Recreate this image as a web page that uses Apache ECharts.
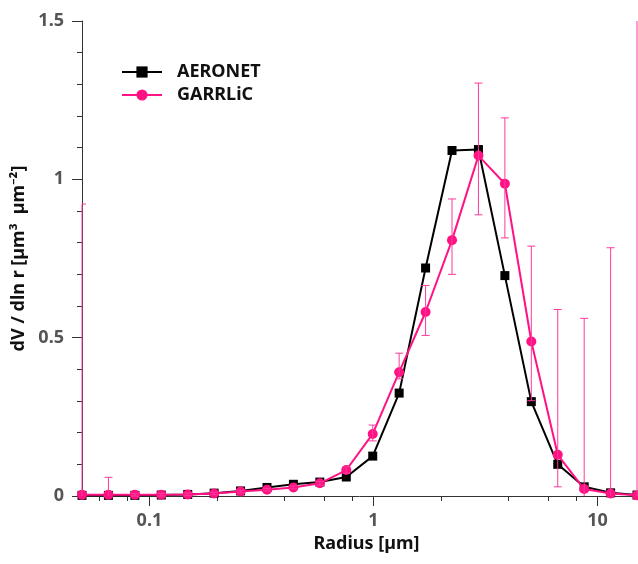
<!DOCTYPE html>
<html><head><meta charset="utf-8">
<script src="https://cdn.jsdelivr.net/npm/echarts@6/dist/echarts.min.js"></script>
<style>html,body{margin:0;padding:0;background:#fff}#c{width:638px;height:564px}</style>
</head><body><div id="c"></div>
<script>
// Radius bins [µm]
const radius = [0.05, 0.0656, 0.0861, 0.1129, 0.1482, 0.1944, 0.2551, 0.3347, 0.4392, 0.5762, 0.7561, 0.9921, 1.3017, 1.7080, 2.2411, 2.9406, 3.8584, 5.0627, 6.6429, 8.7163, 11.4369, 15.0];
// dV/dlnr values
const aeronet = [0.002, 0.002, 0.002, 0.003, 0.005, 0.009, 0.016, 0.027, 0.037, 0.044, 0.060, 0.126, 0.325, 0.720, 1.091, 1.094, 0.696, 0.298, 0.100, 0.029, 0.010, 0.003];
const garrlic = [0.004, 0.004, 0.004, 0.004, 0.005, 0.008, 0.014, 0.020, 0.027, 0.040, 0.082, 0.196, 0.391, 0.581, 0.808, 1.075, 0.986, 0.488, 0.130, 0.022, 0.008, 0.002];
// GARRLiC error bar bounds
const garrlicLow = [-0.9, -0.05, 0.000, 0.000, 0.001, 0.004, 0.010, 0.016, 0.022, 0.034, 0.072, 0.174, 0.370, 0.507, 0.700, 0.888, 0.815, 0.301, 0.029, -0.50, -0.77, -2.0];
const garrlicHigh = [0.922, 0.059, 0.008, 0.008, 0.009, 0.012, 0.018, 0.024, 0.032, 0.046, 0.092, 0.224, 0.451, 0.665, 0.938, 1.304, 1.194, 0.789, 0.589, 0.561, 0.784, 3.0];
// Axis ticks
const xMajorTicks = [0.1, 1, 10];
const xMinorTicks = [0.06, 0.08, 0.2, 0.4, 0.6, 0.8, 2, 4, 6, 8];
const xRange = [0.05, 15];
const yRange = [0, 1.5];
const yInterval = 0.5;

const PINK = '#ff1284';
const LOG = Math.log10;
const xMin = LOG(xRange[0]), xMax = LOG(xRange[1]);
const fmt = v => String(parseFloat(Math.pow(10, v).toPrecision(6)));

const chart = echarts.init(document.getElementById('c'), null, {renderer: 'canvas'});
const axisColor = '#333';
const labelFont = {fontFamily: 'Noto Sans', fontSize: 18, fontWeight: 'bold', color: '#555'};
const nameFont = {fontFamily: 'Noto Sans', fontSize: 18, fontWeight: 'bold', color: '#111'};

chart.setOption({
  animation: false,
  backgroundColor: '#fff',
  grid: {left: 82, top: 21, right: 1, bottom: 68, containLabel: false},
  legend: {
    orient: 'vertical', left: 121, top: 63, padding: 0, itemGap: 5,
    itemWidth: 40, itemHeight: 14,
    textStyle: {fontFamily: 'Noto Sans', fontSize: 18, fontWeight: 'bold', color: '#111', padding: [0, 0, 0, 10]},
    data: ['AERONET', 'GARRLiC']
  },
  xAxis: [{
    type: 'value', min: xMin, max: xMax,
    name: 'Radius [µm]', nameLocation: 'middle', nameGap: 34,
    nameTextStyle: Object.assign({padding: [0, 0, 0, 14]}, nameFont),
    axisLine: {show: true, onZero: false, lineStyle: {color: axisColor, width: 1}},
    axisTick: {show: true, length: 10, customValues: xMajorTicks.map(LOG), lineStyle: {color: axisColor}},
    axisLabel: Object.assign({customValues: xMajorTicks.map(LOG), formatter: fmt, margin: 16}, labelFont),
    splitLine: {show: false}
  }, {
    type: 'value', min: xMin, max: xMax, position: 'bottom', gridIndex: 0,
    axisLine: {show: false, onZero: false},
    axisTick: {show: true, length: 5, customValues: xMinorTicks.map(LOG), lineStyle: {color: axisColor}},
    axisLabel: {show: false},
    splitLine: {show: false}
  }],
  yAxis: {
    type: 'value', min: yRange[0], max: yRange[1], interval: yInterval,
    name: 'dV / dln r [µm³  µm⁻²]', nameLocation: 'middle', nameGap: 41,
    nameTextStyle: nameFont,
    axisLine: {show: true, onZero: false, lineStyle: {color: axisColor, width: 1}},
    axisTick: {show: true, length: 10, lineStyle: {color: axisColor}},
    minorTick: {show: true, splitNumber: 5, length: 5, lineStyle: {color: axisColor}},
    axisLabel: Object.assign({margin: 18}, labelFont),
    splitLine: {show: false}
  },
  series: [{
    name: 'AERONET', type: 'line', xAxisIndex: 0,
    data: radius.map((r, i) => [LOG(r), aeronet[i]]),
    symbol: 'rect', symbolSize: 9,
    lineStyle: {color: '#000', width: 2}, itemStyle: {color: '#000'}, z: 2
  }, {
    name: 'GARRLiC', type: 'line', xAxisIndex: 0,
    data: radius.map((r, i) => [LOG(r), garrlic[i]]),
    symbol: 'circle', symbolSize: 10,
    lineStyle: {color: PINK, width: 2}, itemStyle: {color: PINK}, z: 3
  }, {
    name: 'GARRLiC err', type: 'custom', xAxisIndex: 0, clip: false, z: 4,
    data: radius.map((r, i) => [LOG(r), garrlicLow[i], garrlicHigh[i]]),
    renderItem: function (params, api) {
      const x = api.value(0);
      const loV = api.value(1), hiV = api.value(2);
      const loC = Math.max(loV, yRange[0]), hiC = Math.min(hiV, yRange[1]);
      const lo = api.coord([x, loC]);
      const hi = api.coord([x, hiC]);
      const cs = params.coordSys;
      const left = cs.x, right = cs.x + cs.width;
      const w = 4;
      const st = {stroke: '#ff3a9a', lineWidth: 1};
      const kids = [{type: 'line', shape: {x1: lo[0], y1: lo[1], x2: hi[0], y2: hi[1]}, style: st}];
      if (hiC === hiV) kids.push({type: 'line', shape: {x1: Math.max(left, hi[0] - w), y1: hi[1], x2: Math.min(right, hi[0] + w), y2: hi[1]}, style: st});
      if (loC === loV) kids.push({type: 'line', shape: {x1: Math.max(left, lo[0] - w), y1: lo[1], x2: Math.min(right, lo[0] + w), y2: lo[1]}, style: st});
      return {type: 'group', children: kids};
    }
  }]
});
</script></body></html>
